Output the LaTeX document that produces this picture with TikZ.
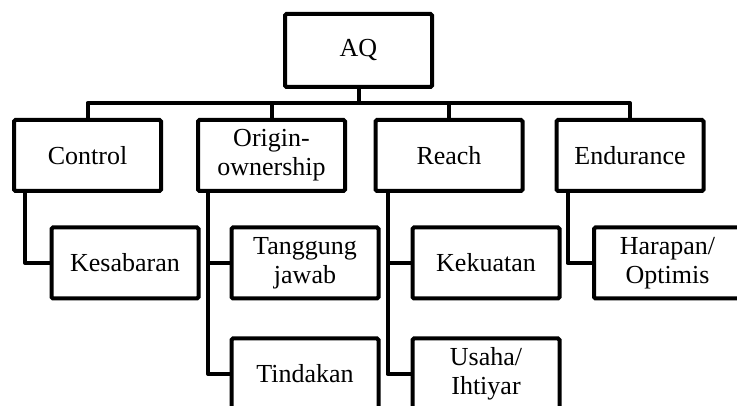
\documentclass[tikz,border=0pt]{standalone}
\usepackage{fontspec}
\setmainfont{Liberation Serif}
\usetikzlibrary{positioning}
\tikzset{
    aq_box/.style={
        draw,
        line width=4pt,
        rounded corners=1.5pt,
        minimum width=147pt,
        minimum height=73pt,
        inner sep=0pt,
        align=center,
        font=\fontsize{26}{29}\selectfont
    },
    dim_box/.style={
        aq_box,
        minimum height=71pt
    },
    tree_edge/.style={
        line width=4pt,
        line join=round
    }
}

\begin{document}
\begin{tikzpicture}[x=1pt, y=-1pt]
    \clip (0,0) rectangle (737,406);

    \node[aq_box] (aq) at (358.5,50.5) {AQ};

    \node[dim_box] (control) at (87.5,155.5) {Control};
    \node[dim_box] (origin) at (271.5,155.5) {Origin-\\ownership};
    \node[dim_box] (reach) at (449,155.5) {Reach};
    \node[dim_box] (endurance) at (630,155.5) {Endurance};

    \node[dim_box] (kesabaran) at (125,263) {Kesabaran};
    \node[dim_box] (tanggung) at (305,263) {Tanggung\\jawab};
    \node[dim_box] (kekuatan) at (486,263) {Kekuatan};
    \node[dim_box] (harapan) at (667.5,263) {Harapan/\\Optimis};
    \node[dim_box, below=36pt of tanggung] (tindakan) {Tindakan};
    \node[dim_box, below=36pt of kekuatan] (usaha) {Usaha/\\Ihtiyar};

    \coordinate (bus) at (358.5,103);

    \draw[tree_edge] (aq.south) -- (bus);
    \draw[tree_edge] (control.north) |- (bus);
    \draw[tree_edge] (origin.north) |- (bus);
    \draw[tree_edge] (reach.north) |- (bus);
    \draw[tree_edge] (endurance.north) |- (bus);

    \draw[tree_edge] ([xshift=13pt]control.south west) |- (kesabaran.west);
    \draw[tree_edge] ([xshift=12pt]origin.south west) |- (tanggung.west);
    \draw[tree_edge] ([xshift=12pt]origin.south west) |- (tindakan.west);
    \draw[tree_edge] ([xshift=14pt]reach.south west) |- (kekuatan.west);
    \draw[tree_edge] ([xshift=14pt]reach.south west) |- (usaha.west);
    \draw[tree_edge] ([xshift=13pt]endurance.south west) |- (harapan.west);
\end{tikzpicture}
\end{document}
